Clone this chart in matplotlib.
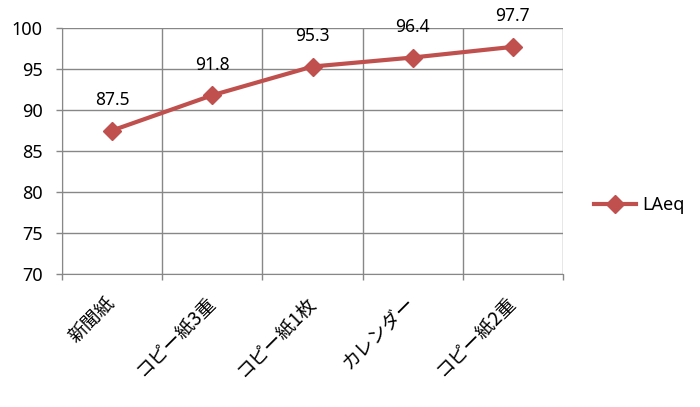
import matplotlib
matplotlib.use("Agg")
import matplotlib.pyplot as plt
import numpy as np

plt.rcParams['font.family'] = ['Noto Sans', 'Noto Sans CJK JP', 'DejaVu Sans']

categories = ['新聞紙', 'コピー紙3重', 'コピー紙1枚', 'カレンダー', 'コピー紙2重']
laeq = [87.5, 91.8, 95.3, 96.4, 97.7]
yticks = [70, 75, 80, 85, 90, 95, 100]

red = '#C0504D'
grid = '#878787'

fig = plt.figure(figsize=(7, 4.07), dpi=100)
ax = fig.add_axes([62/700, 1 - 274/407, 501/700, 246/407])

x = np.arange(len(categories))
ax.plot(x, laeq, color=red, lw=3, marker='D', markersize=9,
        markerfacecolor=red, markeredgecolor=red, label='LAeq', zorder=3)
for xi, v in zip(x, laeq):
    ax.annotate(f'{v}', (xi, v), xytext=(0, 22), textcoords='offset points',
                ha='center', va='center', fontsize=12.5)

ax.set_xlim(-0.5, len(categories) - 0.5)
ax.set_ylim(70, 100)
ax.set_yticks(yticks)
ax.set_yticklabels([str(t) for t in yticks], fontsize=13)

# category boundaries carry the gridlines and tick marks
ax.set_xticks(np.arange(len(categories) + 1) - 0.5)
ax.set_xticklabels([])
ax.set_xticks(x, minor=True)
ax.set_xticklabels(categories, minor=True, rotation=45, ha='right', va='center',
                   rotation_mode='anchor', fontsize=13.5,
                   family=['Noto Sans CJK JP', 'DejaVu Sans'])
ax.tick_params(axis='x', which='minor', length=0, pad=19)
ax.tick_params(axis='x', which='major', length=4, color=grid, width=1)
ax.tick_params(axis='y', length=4, color=grid, width=1, pad=10)

ax.grid(True, which='major', color=grid, lw=1)
ax.set_axisbelow(True)
for s in ['top', 'right']:
    ax.spines[s].set_visible(False)
for s in ['left', 'bottom']:
    ax.spines[s].set_color(grid)

ax.legend(loc='center left', bbox_to_anchor=(1.03, 0.28), frameon=False,
          fontsize=13, handlelength=2.3, handletextpad=0.35)

fig.savefig('out.png', dpi=100)
